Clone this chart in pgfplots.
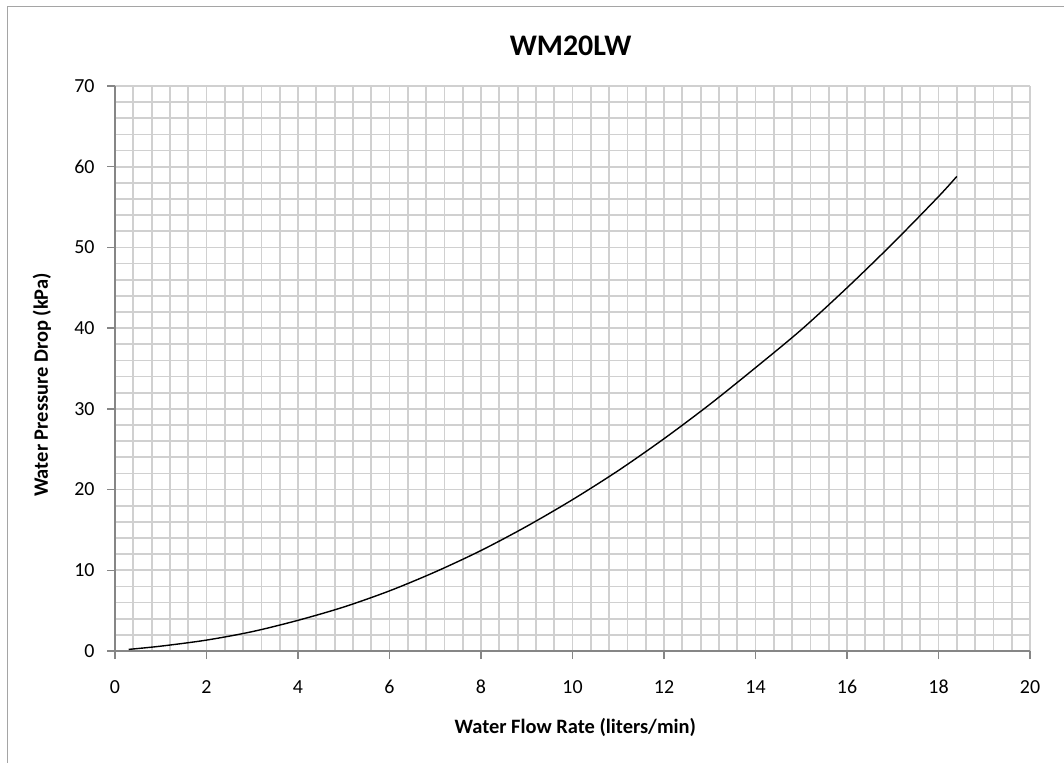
\documentclass[border=0pt]{standalone}
\usepackage{pgfplots}
\pgfplotsset{compat=1.18}
\usepackage{fontspec}
\setmainfont{Carlito}
\definecolor{gridgray}{RGB}{208,208,208}
\definecolor{axisgray}{RGB}{134,134,134}
\definecolor{framegray}{RGB}{165,165,165}
\begin{document}
\begin{tikzpicture}
\path[use as bounding box] (0bp,0bp) rectangle (1064bp,763bp);
% chart frame
\draw[framegray, line width=1.5bp] (7.5bp,-20bp) -- (7.5bp,756.5bp) -- (1100bp,756.5bp);
\begin{axis}[
  at={(115bp,112bp)}, anchor=south west,
  scale only axis, width=915bp, height=565bp,
  xmin=0, xmax=20, ymin=0, ymax=70,
  xtick={0,2,...,20}, ytick={0,10,...,70},
  minor xtick={0,0.4,...,20}, minor ytick={0,2,...,70},
  grid=both,
  major grid style={gridgray, line width=1.8bp},
  minor grid style={gridgray, line width=1.8bp},
  axis lines*=left,
  axis line style={axisgray, line width=1.5bp},
  tick align=outside,
  major tick length=8bp, minor tick length=0bp,
  tick style={axisgray, line width=1.4bp},
  xtick pos=bottom, ytick pos=left,
  /pgf/number format/assume math mode=true,
  tick label style={font=\fontsize{20}{24}\selectfont, text=black},
  yticklabel style={xshift=-9bp},
  xticklabel style={text height=13bp, text depth=0bp, yshift=-18bp},
  title={WM20LW},
  title style={font=\bfseries\fontsize{30}{36}\selectfont,
    at={(axis description cs:0.498,1.060)}, anchor=center},
  xlabel={Water Flow Rate (liters/min)},
  ylabel={Water Pressure Drop (kPa)},
  label style={font=\bfseries\fontsize{20.5}{24}\selectfont},
  xlabel style={at={(axis description cs:0.503,-0.1345)}, anchor=center},
  ylabel style={at={(axis description cs:-0.0798,0.4708)}, anchor=center},
]
\addplot[black, line width=1.4bp, smooth, tension=0.5] coordinates {
  (0.3,0.2) (1,0.6) (2,1.35) (3,2.4) (4,3.8) (5,5.45) (6,7.45) (7,9.8)
  (8,12.45) (9,15.45) (10,18.75) (11,22.35) (12,26.3) (13,30.55) (14,35.1)
  (15,39.8) (16,45.0) (17,50.5) (18,56.3) (18.4,58.8)
};
\end{axis}
\end{tikzpicture}
\end{document}
